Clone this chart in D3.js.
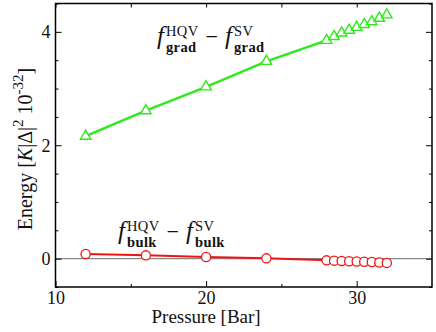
<!DOCTYPE html>
<html>
<head>
<meta charset="utf-8">
<script src="https://cdn.jsdelivr.net/npm/d3@7"></script>
<style>
  body { margin: 0; background: #fff; }
  svg { display: block; }
</style>
</head>
<body>
<div id="chart"></div>
<script>
// pressures in bar
var pressure = [12, 16, 20, 24, 28, 28.5, 29, 29.5, 30, 30.5, 31, 31.5, 32]
// gradient energy difference, f_grad^HQV - f_grad^SV
var gradDiff = [2.16, 2.61, 3.03, 3.48, 3.85, 3.92, 3.98, 4.03, 4.08, 4.13, 4.18, 4.24, 4.30]
// bulk energy difference, f_bulk^HQV - f_bulk^SV
var bulkDiff = [0.083, 0.058, 0.03, 0.005, -0.03, -0.035, -0.04, -0.045, -0.05, -0.055, -0.06, -0.068, -0.075]

var xTicks = [10, 20, 30]
var yTicks = [0, 2, 4]

var serif = '"Liberation Serif", "Times New Roman", "DejaVu Serif", serif'

var width = 436
var height = 332
var margin = { top: 3.5, right: 4, bottom: 45, left: 55.5 }
var w = width - margin.left - margin.right
var h = height - margin.top - margin.bottom

var svg = d3.select('#chart').append('svg')
  .attr('width', width)
  .attr('height', height)
  .attr('font-family', serif)

var g = svg.append('g')
  .attr('transform', 'translate(' + margin.left + ',' + margin.top + ')')

var x = d3.scaleLinear().domain([10, 35]).range([0, w])
var y = d3.scaleLinear().domain([-0.5, 4.5]).range([h, 0])

// zero line
g.append('line')
  .attr('x1', 0).attr('x2', w)
  .attr('y1', y(0)).attr('y2', y(0))
  .attr('stroke', '#888')
  .attr('stroke-width', 1.2)

// ticks (inward) on all four sides
function tickAxes (axisFn, scale, values, size, transform, labels) {
  var a = g.append('g')
    .attr('transform', transform)
    .call(axisFn(scale).tickValues(values).tickSize(size)
      .tickFormat(labels ? d3.format('d') : ''))
  a.attr('font-family', serif)
  a.select('.domain').remove()
  a.selectAll('line').attr('stroke', '#000').attr('stroke-width', 1)
  return a
}

var xMinor = d3.range(15, 35, 10)
var yMinor = d3.range(-0.5, 4.51, 0.5).filter(function (d) { return yTicks.indexOf(d) < 0 })

var xb = tickAxes(d3.axisBottom, x, xTicks, -6, 'translate(0,' + h + ')', true)
tickAxes(d3.axisBottom, x, xMinor, -3, 'translate(0,' + h + ')', false)
tickAxes(d3.axisTop, x, xTicks.concat(xMinor), -4, 'translate(0,0)', false)
var yl = tickAxes(d3.axisLeft, y, yTicks, -6, 'translate(0,0)', true)
tickAxes(d3.axisLeft, y, yMinor, -3, 'translate(0,0)', false)
tickAxes(d3.axisRight, y, yTicks, -6, 'translate(' + w + ',0)', false)
tickAxes(d3.axisRight, y, yMinor, -3, 'translate(' + w + ',0)', false)

xb.selectAll('text')
  .attr('y', 4)
  .attr('dy', '0.71em')
  .attr('font-size', 18)
  .attr('fill', '#111')
yl.selectAll('text')
  .attr('x', -5)
  .attr('font-size', 18)
  .attr('fill', '#111')

// frame
g.append('rect')
  .attr('width', w).attr('height', h)
  .attr('fill', 'none')
  .attr('stroke', '#000')
  .attr('stroke-width', 1.5)

// series
var line = d3.line()
  .x(function (d) { return x(d[0]) })
  .y(function (d) { return y(d[1]) })

var gradPts = pressure.map(function (p, i) { return [p, gradDiff[i]] })
var bulkPts = pressure.map(function (p, i) { return [p, bulkDiff[i]] })

var green = '#2eea1c'
var red = '#f01414'

g.append('path').datum(gradPts)
  .attr('d', line).attr('fill', 'none')
  .attr('stroke', green).attr('stroke-width', 2.5)

g.selectAll('.tri').data(gradPts).enter().append('path')
  .attr('class', 'tri')
  .attr('d', d3.symbol().type(d3.symbolTriangle).size(48))
  .attr('transform', function (d) { return 'translate(' + x(d[0]) + ',' + y(d[1]) + ')' })
  .attr('fill', '#fff').attr('stroke', green).attr('stroke-width', 1.4)

g.append('path').datum(bulkPts)
  .attr('d', line).attr('fill', 'none')
  .attr('stroke', red).attr('stroke-width', 2)

g.selectAll('.circ').data(bulkPts).enter().append('circle')
  .attr('class', 'circ')
  .attr('cx', function (d) { return x(d[0]) })
  .attr('cy', function (d) { return y(d[1]) })
  .attr('r', 4.6)
  .attr('fill', '#fff').attr('stroke', red).attr('stroke-width', 1.3)

// axis labels
svg.append('text')
  .attr('x', margin.left + x(20))
  .attr('y', 323)
  .attr('text-anchor', 'middle')
  .attr('font-size', 19)
  .attr('fill', '#111')
  .text('Pressure [Bar]')

var ylab = svg.append('text')
  .attr('transform', 'translate(32,149) rotate(-90)')
  .attr('text-anchor', 'middle')
  .attr('font-size', 20)
  .attr('fill', '#111')
ylab.append('tspan').text('Energy [')
ylab.append('tspan').attr('font-style', 'italic').text('K')
ylab.append('tspan').text('|Δ|')
ylab.append('tspan').attr('dy', -9).attr('font-size', 15).text('2')
ylab.append('tspan').attr('dy', 9).text(' 10')
ylab.append('tspan').attr('dy', -9).attr('font-size', 15).text('-32')
ylab.append('tspan').attr('dy', 9).text(']')

// f^{sup}_{sub} - f^{sup}_{sub}, as one text element
function formula (x0, y0, sub) {
  var t = svg.append('text').attr('x', x0).attr('y', y0).attr('fill', '#111')
  var cx = x0
  function term (sup, first) {
    var f = t.append('tspan').attr('font-size', 25).attr('font-style', 'italic').text('f')
    if (!first) f.attr('x', cx).attr('y', y0)
    cx += f.node().getComputedTextLength() + 2
    var a = t.append('tspan').attr('x', cx).attr('y', y0 - 8)
      .attr('font-size', 14.5).attr('letter-spacing', 0.4).text(sup)
    var b = t.append('tspan').attr('x', cx).attr('y', y0 + 8)
      .attr('font-size', 14.5).attr('font-weight', 600).attr('letter-spacing', 0.4).text(sub)
    cx += Math.max(a.node().getComputedTextLength(), b.node().getComputedTextLength())
  }
  term('HQV', true)
  cx += 7
  var m = t.append('tspan').attr('x', cx).attr('y', y0)
    .attr('font-size', 22).text('−')
  cx += m.node().getComputedTextLength() + 7
  term('SV', false)
}

formula(157, 44, 'grad')
formula(118, 239, 'bulk')
</script>
</body>
</html>
